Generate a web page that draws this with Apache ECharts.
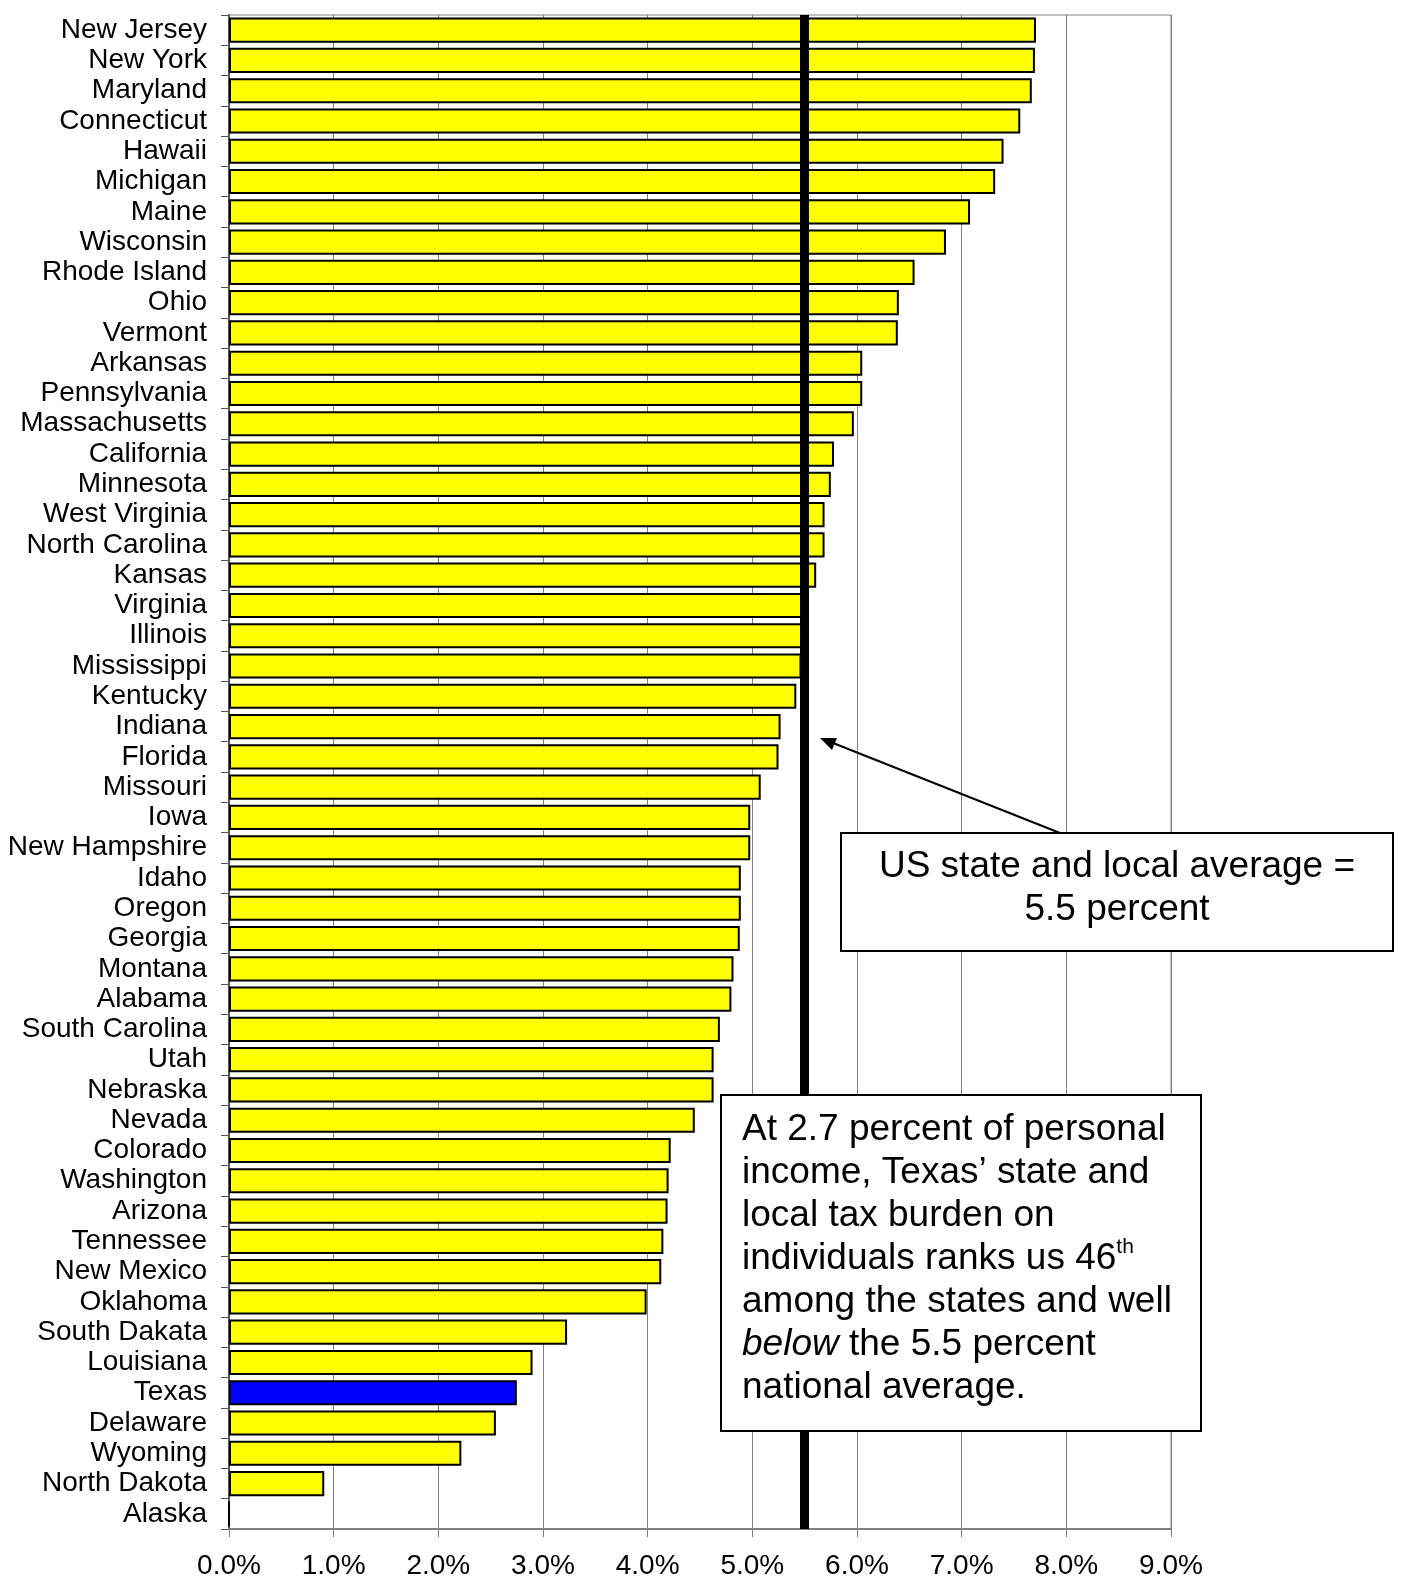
<!DOCTYPE html>
<html>
<head>
<meta charset="utf-8">
<script src="https://cdn.jsdelivr.net/npm/echarts@6/dist/echarts.min.js"></script>
<style>
  html, body { margin: 0; padding: 0; background: #fff; }
  #chart { width: 1405px; height: 1583px; }
</style>
</head>
<body>
<div id="chart"></div>
<script>
// states, top to bottom
const states = [
  "New Jersey", "New York", "Maryland", "Connecticut", "Hawaii", "Michigan",
  "Maine", "Wisconsin", "Rhode Island", "Ohio", "Vermont", "Arkansas",
  "Pennsylvania", "Massachusetts", "California", "Minnesota", "West Virginia",
  "North Carolina", "Kansas", "Virginia", "Illinois", "Mississippi", "Kentucky",
  "Indiana", "Florida", "Missouri", "Iowa", "New Hampshire", "Idaho", "Oregon",
  "Georgia", "Montana", "Alabama", "South Carolina", "Utah", "Nebraska",
  "Nevada", "Colorado", "Washington", "Arizona", "Tennessee", "New Mexico",
  "Oklahoma", "South Dakata", "Louisiana", "Texas", "Delaware", "Wyoming",
  "North Dakota", "Alaska"
];
// tax burden, percent of personal income
const burden = [
  7.71, 7.70, 7.67, 7.56, 7.40, 7.32,
  7.08, 6.85, 6.55, 6.40, 6.39, 6.05,
  6.05, 5.97, 5.78, 5.75, 5.69,
  5.69, 5.61, 5.53, 5.52, 5.47, 5.42,
  5.27, 5.25, 5.08, 4.98, 4.98, 4.89, 4.89,
  4.88, 4.82, 4.80, 4.69, 4.63, 4.63,
  4.45, 4.22, 4.20, 4.19, 4.15, 4.13,
  3.99, 3.23, 2.90, 2.75, 2.55, 2.22,
  0.91, 0
];
const usAverage = 5.5;
const highlight = "Texas";

const font = "'Liberation Sans', Arial, sans-serif";
const chart = echarts.init(document.getElementById("chart"));

const barData = burden.map((v, i) => {
  if (states[i] === highlight) {
    return { value: v, itemStyle: { color: "#0000ff" } };
  }
  return v;
});

chart.setOption({
  animation: false,
  grid: {
    left: 229,
    right: 234,
    top: 15,
    bottom: 54,
    show: true,
    borderColor: "#808080",
    borderWidth: 1
  },
  xAxis: {
    type: "value",
    min: 0,
    max: 9,
    interval: 1,
    axisLine: { show: true, lineStyle: { color: "#808080", width: 2 } },
    axisTick: { show: true, length: 8, lineStyle: { color: "#808080" } },
    splitLine: { show: true, lineStyle: { color: "#808080", width: 1 } },
    axisLabel: {
      formatter: v => v.toFixed(1) + "%",
      color: "#000",
      fontFamily: font,
      fontSize: 28,
      margin: 23
    }
  },
  yAxis: {
    type: "category",
    inverse: true,
    data: states,
    axisLine: { show: true, lineStyle: { color: "#555", width: 2 } },
    axisTick: { show: true, length: 8, lineStyle: { color: "#555" } },
    axisLabel: {
      color: "#000",
      fontFamily: font,
      fontSize: 28,
      margin: 22,
      interval: 0
    }
  },
  series: [
    {
      type: "bar",
      data: barData,
      barCategoryGap: "17%",
      itemStyle: { color: "#ffff00", borderColor: "#000", borderWidth: 2 },
      silent: true,
      markLine: {
        silent: true,
        symbol: "none",
        label: { show: false },
        lineStyle: { color: "#000", width: 9, type: "solid" },
        data: [{ xAxis: usAverage }]
      }
    }
  ],
  graphic: [
    // arrow from box to average line
    {
      type: "line",
      shape: { x1: 1060, y1: 833, x2: 828, y2: 741 },
      style: { stroke: "#000", lineWidth: 2 },
      z: 100
    },
    {
      type: "polygon",
      shape: { points: [[820, 738], [837, 738], [832, 750]] },
      style: { fill: "#000" },
      z: 100
    },
    {
      type: "rect",
      shape: { x: 841, y: 833, width: 552, height: 118 },
      style: { fill: "#fff", stroke: "#000", lineWidth: 2 },
      z: 100
    },
    {
      type: "text",
      x: 1117,
      y: 888,
      style: {
        text: "US state and local average =\n5.5 percent",
        align: "center",
        verticalAlign: "middle",
        font: "37px " + font,
        lineHeight: 43,
        fill: "#000"
      },
      z: 101
    },
    {
      type: "rect",
      shape: { x: 721, y: 1095, width: 480, height: 336 },
      style: { fill: "#fff", stroke: "#000", lineWidth: 2 },
      z: 100
    },
    {
      type: "text",
      x: 742,
      y: 1108,
      style: {
        text: "At 2.7 percent of personal\nincome, Texas\u2019 state and\nlocal tax burden on\nindividuals ranks us 46{sup|th}\namong the states and well\n{it|below} the 5.5 percent\nnational average.",
        align: "left",
        verticalAlign: "top",
        fontSize: 37,
        fontFamily: font,
        lineHeight: 43,
        fill: "#000",
        rich: {
          sup: { fontSize: 21, fontFamily: font, verticalAlign: "top", padding: [0, 0, 16, 0], lineHeight: 43 },
          it: { fontSize: 37, fontFamily: font, fontStyle: "italic", lineHeight: 43 }
        }
      },
      z: 101
    }
  ]
});
</script>
</body>
</html>
